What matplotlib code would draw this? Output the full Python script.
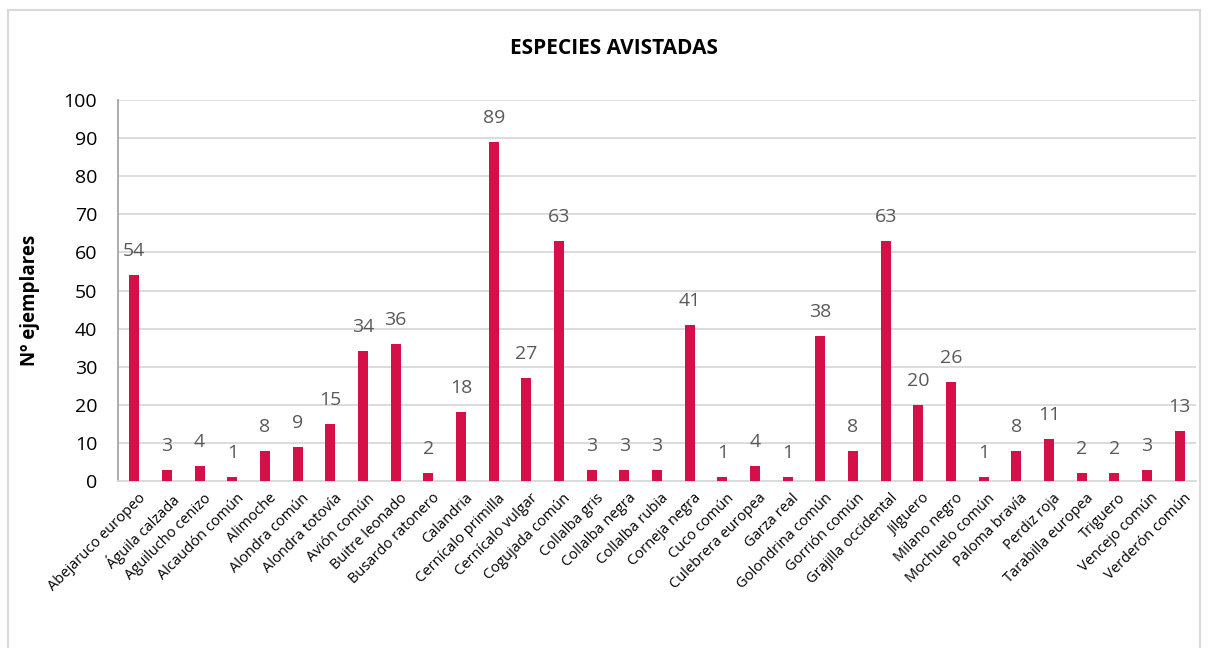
import matplotlib.pyplot as plt
import matplotlib.transforms as mtransforms
import numpy as np
from matplotlib.patches import Rectangle

# Data
especies = ['Abejaruco europeo', 'Águila calzada', 'Aguilucho cenizo', 'Alcaudón común',
            'Alimoche', 'Alondra común', 'Alondra totovía', 'Avión común', 'Buitre leonado',
            'Busardo ratonero', 'Calandria', 'Cernícalo primilla', 'Cernícalo vulgar',
            'Cogujada común', 'Collalba gris', 'Collalba negra', 'Collalba rubia',
            'Corneja negra', 'Cuco común', 'Culebrera europea', 'Garza real',
            'Golondrina común', 'Gorrión común', 'Grajilla occidental', 'Jilguero',
            'Milano negro', 'Mochuelo común', 'Paloma bravía', 'Perdiz roja',
            'Tarabilla europea', 'Triguero', 'Vencejo común', 'Verderón común']
ejemplares = [54, 3, 4, 1, 8, 9, 15, 34, 36, 2, 18, 89, 27, 63, 3, 3, 3, 41, 1, 4, 1,
              38, 8, 63, 20, 26, 1, 8, 11, 2, 2, 3, 13]

plt.rcParams['font.family'] = ['Open Sans', 'DejaVu Sans']

fig = plt.figure(figsize=(12.08, 6.48), dpi=100)
ax = fig.add_axes([118 / 1208, 1 - 481 / 648, (1196 - 118) / 1208, (481 - 100) / 648])

# marco del gráfico
fig.patches.append(Rectangle((8 / 1208, -0.05), (1200 - 8) / 1208, 1.05 - 10 / 648,
                             transform=fig.transFigure, fill=False,
                             edgecolor='#d9d9d9', linewidth=1.5))

x = np.arange(len(especies))
ax.bar(x, ejemplares, width=0.31, color='#d50f48', zorder=3)

for xi, v in zip(x, ejemplares):
    ax.text(xi, v + 6.3, str(v), ha='center', va='center', fontsize=14, color='#595959')

ax.set_xlim(-0.5, len(especies) - 0.5)
ax.set_ylim(0, 100)
ax.set_yticks(np.arange(0, 101, 10))
ax.tick_params(axis='y', labelsize=14, length=0, pad=15, labelcolor='#000000')
ax.set_xticks(x)
ax.set_xticklabels(especies, rotation=45, ha='right', va='top', rotation_mode='anchor',
                   fontsize=10.5, color='#000000')
ax.tick_params(axis='x', length=0, pad=7)
shift = mtransforms.ScaledTranslation(4 / 100, 0, fig.dpi_scale_trans)
for lbl in ax.get_xticklabels():
    lbl.set_transform(lbl.get_transform() + shift)
ax.grid(axis='y', color='#d9d9d9', linewidth=1.3, zorder=0)
for s in ['top', 'right']:
    ax.spines[s].set_visible(False)
ax.spines['left'].set_color('#a6a6a6')
ax.spines['bottom'].set_color('#d9d9d9')
ax.spines['left'].set_linewidth(1.3)
ax.spines['bottom'].set_linewidth(1.3)

fig.text(614 / 1208, 1 - 48 / 648, 'ESPECIES AVISTADAS', ha='center', va='center',
         fontsize=15, fontweight='bold')
fig.text(30 / 1208, 1 - 300 / 648, 'Nº ejemplares', ha='center', va='center',
         rotation=90, fontsize=13.5, fontweight='bold')

plt.savefig('out.png', dpi=100)
